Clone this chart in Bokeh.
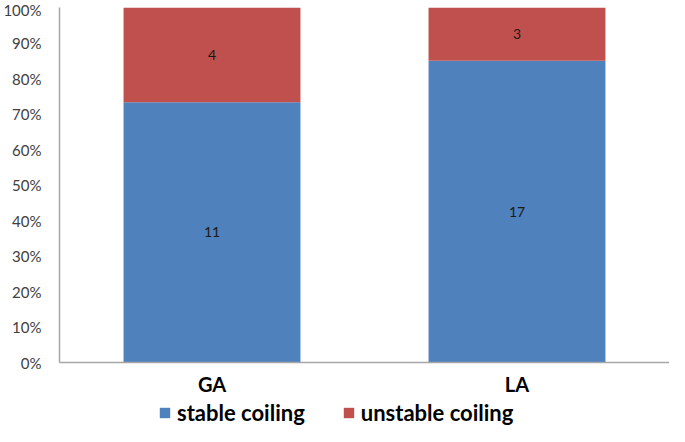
from bokeh.plotting import figure
from bokeh.layouts import column
from bokeh.models import ColumnDataSource, FactorRange, Legend, LegendItem, NumeralTickFormatter, FixedTicker, Range1d
from bokeh.core.properties import value
from bokeh.embed import file_html
from bokeh.resources import INLINE

categories = ["GA", "LA"]
stable = [11, 17]
unstable = [4, 3]
series_names = ["stable coiling", "unstable coiling"]
colors = ["#4F81BD", "#C0504D"]
y_ticks = [i / 10 for i in range(11)]

totals = [s + u for s, u in zip(stable, unstable)]
stable_pct = [s / t for s, t in zip(stable, totals)]
unstable_pct = [u / t for u, t in zip(unstable, totals)]

src = ColumnDataSource(dict(
    cat=categories,
    stable=stable_pct,
    unstable=unstable_pct,
    stable_mid=[p / 2 for p in stable_pct],
    unstable_mid=[s + u / 2 for s, u in zip(stable_pct, unstable_pct)],
    stable_lbl=[str(v) for v in stable],
    unstable_lbl=[str(v) for v in unstable],
))

p = figure(width=669, height=398, output_backend="svg", toolbar_location=None,
           x_range=FactorRange(*categories, range_padding=0), y_range=Range1d(0, 1),
           min_border_left=53, min_border_right=0, min_border_top=7, min_border_bottom=28)
p.outline_line_color = None
p.xgrid.grid_line_color = None
p.ygrid.grid_line_color = None

r = p.vbar_stack(["stable", "unstable"], x="cat", width=0.58, color=colors, source=src, line_color=None)

p.text(x="cat", y="stable_mid", text="stable_lbl", source=src, text_align="center", text_baseline="middle",
       text_font=value("Lato"), text_font_size="14px", text_color="#1a1a1a")
p.text(x="cat", y="unstable_mid", text="unstable_lbl", source=src, text_align="center", text_baseline="middle",
       text_font=value("Lato"), text_font_size="14px", text_color="#1a1a1a")

p.yaxis.ticker = FixedTicker(ticks=y_ticks)
p.yaxis.formatter = NumeralTickFormatter(format="0%")
for ax in (p.xaxis[0], p.yaxis[0]):
    ax.axis_line_color = "#A6A6A6"
    ax.axis_line_width = 1.5
    ax.major_tick_line_color = None
    ax.minor_tick_line_color = None
p.yaxis.major_label_text_font = "Lato"
p.yaxis.major_label_text_font_size = "15px"
p.yaxis.major_label_text_color = "#404040"
p.yaxis.major_label_standoff = 12
p.xaxis.major_label_text_font = "Lato"
p.xaxis.major_label_text_font_size = "20px"
p.xaxis.major_label_text_font_style = "bold"
p.xaxis.major_label_text_color = "#000000"
p.xaxis.major_label_standoff = 3

# legend strip below the chart (its bars stay out of view; only the legend shows)
p2 = figure(width=669, height=28, output_backend="svg", toolbar_location=None,
            min_border=0, x_range=FactorRange(*categories), y_range=Range1d(2, 3))
p2.axis.visible = False
p2.grid.visible = False
p2.outline_line_color = None
r2 = p2.vbar_stack(["stable", "unstable"], x="cat", width=0.58, color=colors, source=src, line_color=None)
legend = Legend(items=[LegendItem(label=series_names[i], renderers=[r2[i]]) for i in range(2)],
                orientation="horizontal", location=(99, 0), border_line_color=None,
                label_text_font="Lato", label_text_font_size="22px", label_text_font_style="bold",
                label_text_color="#000000", glyph_width=13, glyph_height=13, spacing=37,
                padding=0, margin=0, label_standoff=6, background_fill_alpha=0)
p2.add_layout(legend, "center")

layout = column(p, p2, spacing=0)
open("out.html", "w").write(file_html(layout, INLINE))
